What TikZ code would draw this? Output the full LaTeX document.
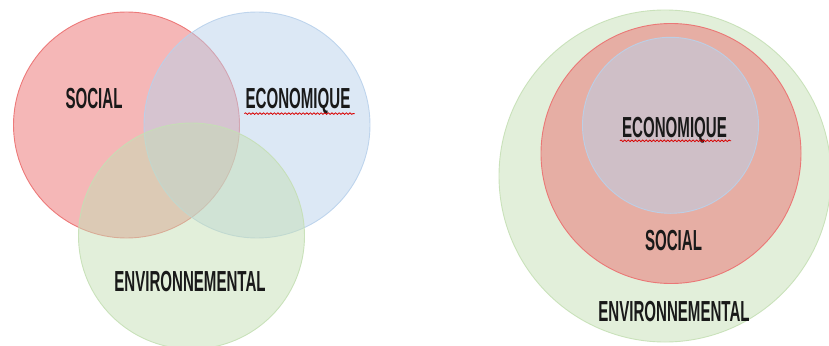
\documentclass[tikz,border=0pt]{standalone}
\usepackage{fontspec}
\usepackage{tikz}
\usepackage{xcolor}
\usetikzlibrary{decorations.pathmorphing}
\newfontfamily\agency[FakeStretch=0.52,BoldFont={Liberation Sans Bold}]{Liberation Sans}
\definecolor{socred}{RGB}{235,111,111}
\definecolor{ecoblue}{RGB}{185,209,235}
\definecolor{envgreen}{RGB}{197,223,181}
\definecolor{inkgray}{RGB}{25,25,25}
\tikzset{pillar/.style={fill opacity=0.5,draw opacity=0.9,line width=0.9pt}}
\tikzset{social/.style={pillar,fill=socred,draw=socred}}
\tikzset{eco/.style={pillar,fill=ecoblue,draw=ecoblue}}
\tikzset{enviro/.style={pillar,fill=envgreen,draw=envgreen}}
\tikzset{pname/.style={inner sep=0pt,text height=20.8pt,text depth=0pt,text=inkgray,font=\agency\bfseries\fontsize{29}{30}\selectfont}}
\tikzset{wavy/.style={decorate,decoration={snake,amplitude=0.8pt,segment length=3.6pt},red!85!black,line width=0.8pt}}

\begin{document}
\begin{tikzpicture}[x=1pt,y=-1pt]
            \clip (0,0) rectangle (829,345);
            % three overlapping pillars
            \draw[social] (126.5,125) circle (113);
            \draw[eco] (257,125) circle (113);
            \draw[enviro] (191.5,236) circle (113);
            \node[pname] (socL) at (94,98.5) {SOCIAL};
            \node[pname] (ecoL) at (298,98.5) {ECONOMIQUE};
            \node[pname] (envL) at (190,281.5) {ENVIRONNEMENTAL};
            \draw[wavy] ([xshift=-1pt,yshift=-4.5pt]ecoL.south west) -- ([xshift=4pt,yshift=-4.5pt]ecoL.south east);

            % nested pillars
            \draw[enviro] (665,176) circle (166);
            \draw[social] (671,153.5) circle (130);
            \draw[eco] (670.5,125.3) circle (88);
            \node[pname] (ecoR) at (674.5,126.7) {ECONOMIQUE};
            \node[pname] (socR) at (673.5,240) {SOCIAL};
            \node[pname] (envR) at (674,311) {ENVIRONNEMENTAL};
            \draw[wavy] ([xshift=-2pt,yshift=-3.5pt]ecoR.south west) -- ([xshift=4pt,yshift=-3.5pt]ecoR.south east);
        \end{tikzpicture}
\end{document}
